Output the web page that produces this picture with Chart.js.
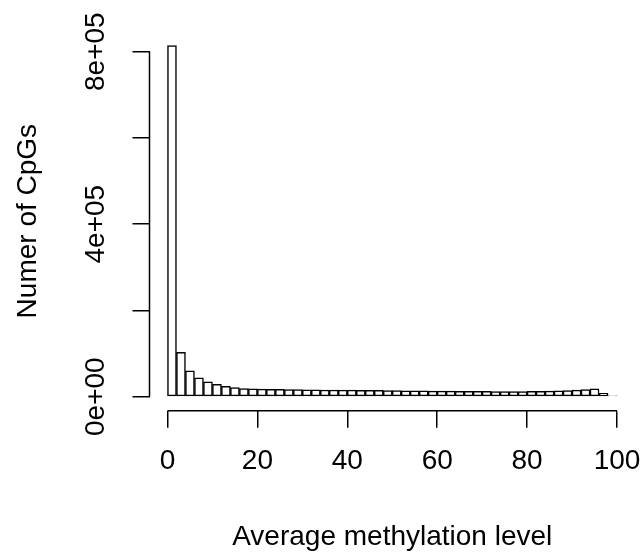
<!DOCTYPE html>
<html>
<head>
<meta charset="utf-8">
<script src="https://cdn.jsdelivr.net/npm/chart.js@4"></script>
<style>
    body { margin: 0; background: #fff; }
</style>
</head>
<body>
<canvas id="hist" width="644" height="554"></canvas>
<script>
// histogram bins of width 2 (mid points) and their counts
const binMids = [1, 3, 5, 7, 9, 11, 13, 15, 17, 19,
    21, 23, 25, 27, 29, 31, 33, 35, 37, 39,
    41, 43, 45, 47, 49, 51, 53, 55, 57, 59,
    61, 63, 65, 67, 69, 71, 73, 75, 77, 79,
    81, 83, 85, 87, 89, 91, 93, 95, 97, 99];
const counts = [814000, 103000, 60000, 43500, 34500, 28500, 24000, 21000, 19000, 18000,
    17500, 17000, 17000, 16500, 16500, 16000, 16000, 15500, 15500, 15000,
    15000, 14800, 14500, 14500, 14200, 14000, 13800, 13500, 13300, 13000,
    13000, 12800, 12600, 12500, 12300, 12200, 12000, 12000, 12000, 12000,
    12200, 12500, 13000, 13500, 14000, 15000, 16500, 18000, 8000, 1500];

const xTicks = [0, 20, 40, 60, 80, 100];
const yTicks = [0, 200000, 400000, 600000, 800000];
const yLabelTicks = [0, 400000, 800000];
const yTickLabels = ["0e+00", "4e+05", "8e+05"];

const FONT = "'Liberation Sans', Arial, sans-serif";

// R style axes: line only between first and last tick, y labels turned
const rAxes = {
    id: "rAxes",
    afterDraw(chart) {
        const {ctx, chartArea, scales: {x, y}} = chart;
        ctx.save();
        ctx.strokeStyle = "#000";
        ctx.lineWidth = 1.5;
        ctx.beginPath();
        ctx.moveTo(x.getPixelForValue(xTicks[0]), chartArea.bottom);
        ctx.lineTo(x.getPixelForValue(xTicks[xTicks.length - 1]), chartArea.bottom);
        ctx.moveTo(chartArea.left, y.getPixelForValue(yTicks[0]));
        ctx.lineTo(chartArea.left, y.getPixelForValue(yTicks[yTicks.length - 1]));
        ctx.stroke();

        ctx.fillStyle = "#000";
        ctx.font = "28px " + FONT;
        ctx.textAlign = "center";
        ctx.textBaseline = "alphabetic";
        yLabelTicks.forEach((v, i) => {
            ctx.save();
            ctx.translate(chartArea.left - 46, y.getPixelForValue(v));
            ctx.rotate(-Math.PI / 2);
            ctx.fillText(yTickLabels[i], 0, 0);
            ctx.restore();
        });
        ctx.restore();
    }
};

const axisGrid = {
    drawOnChartArea: false,
    drawTicks: true,
    tickLength: 17,
    color: "#000",
    lineWidth: 1.5,
    offset: false
};

new Chart(document.getElementById("hist"), {
    type: "bar",
    data: {
        datasets: [{
            data: binMids.map((m, i) => ({x: m, y: counts[i]})),
            backgroundColor: "#fff",
            borderColor: "#000",
            borderWidth: 1.5,
            borderSkipped: false,
            barPercentage: 1,
            categoryPercentage: 1
        }]
    },
    options: {
        responsive: false,
        animation: false,
        layout: {
            padding: {top: 31.6, right: 9, left: 0, bottom: 0}
        },
        plugins: {
            legend: {display: false},
            tooltip: {enabled: false}
        },
        scales: {
            x: {
                type: "linear",
                min: -4,
                max: 104,
                offset: false,
                afterBuildTicks: s => { s.ticks = xTicks.map(v => ({value: v})); },
                afterFit: s => { s.height = 143.3; s.paddingLeft = 0; s.paddingRight = 0; },
                grid: axisGrid,
                border: {display: false},
                ticks: {
                    color: "#000",
                    autoSkip: false,
                    maxRotation: 0,
                    padding: 17,
                    font: {family: FONT, size: 28}
                },
                title: {
                    display: true,
                    text: "Average methylation level",
                    color: "#000",
                    font: {family: FONT, size: 28},
                    padding: {top: 0, bottom: 0}
                }
            },
            y: {
                type: "linear",
                min: -32560,
                max: 846560,
                afterBuildTicks: s => { s.ticks = yTicks.map(v => ({value: v})); },
                afterFit: s => { s.width = 149.5; s.paddingTop = 0; s.paddingBottom = 0; },
                grid: axisGrid,
                border: {display: false},
                ticks: {display: false},
                title: {
                    display: true,
                    text: "Numer of CpGs",
                    color: "#000",
                    font: {family: FONT, size: 28},
                    padding: {top: 11, bottom: 0}
                }
            }
        }
    },
    plugins: [rAxes]
});
</script>
</body>
</html>
